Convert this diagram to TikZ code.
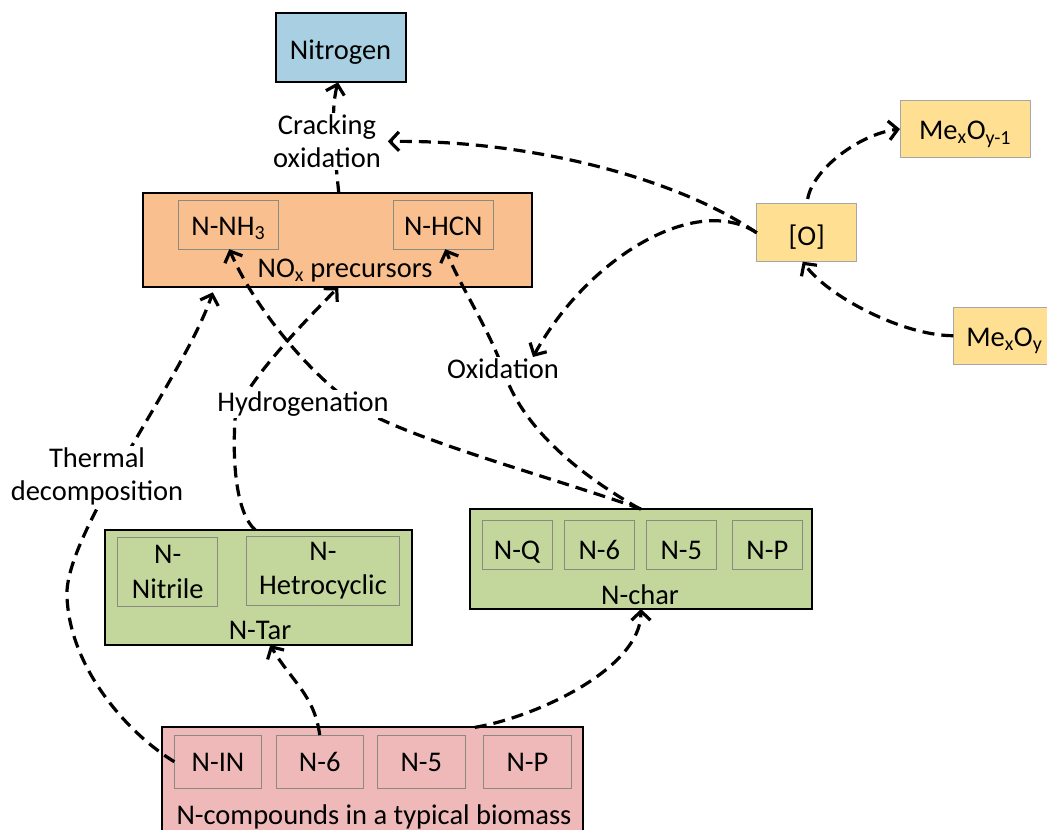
\documentclass[tikz,border=0pt]{standalone}
\usepackage{fontspec}
\setmainfont{Carlito}
\usetikzlibrary{arrows.meta}
\definecolor{nitroblue}{HTML}{A8CFE2}
\definecolor{noxorange}{HTML}{FABF8F}
\definecolor{oxyellow}{HTML}{FFDF91}
\definecolor{chargreen}{HTML}{C3D69B}
\definecolor{biopink}{HTML}{F0B9B9}
\definecolor{innerline}{HTML}{8A8A80}
\definecolor{ygray}{HTML}{A6A6A6}
\tikzset{
  base/.style={inner sep=0pt, outer sep=0pt, font=\fontsize{28.5}{33}\selectfont},
  outerbox/.style={base, draw=black, line width=2pt},
  innerbox/.style={base, draw=innerline, line width=0.9pt, align=center},
  ybox/.style={base, draw=ygray, line width=1pt, fill=oxyellow},
  lbl/.style={base, inner sep=2pt, fill=white, align=center},
  intext/.style={base, text height=18pt, text depth=0pt},
  tlow/.style={text height=#1, text depth=0pt},
  flow/.style={line width=3.2pt, dash pattern=on 12pt off 7pt,
    -{Straight Barb[length=9pt,width=19pt]}}
}
\begin{document}
\begin{tikzpicture}[x=1pt,y=-1pt]
\useasboundingbox (0,0) rectangle (1047,830);
\clip (0,0) rectangle (1047,830);
\fill[white] (0,0) rectangle (1047,830);

% boxes
\node[outerbox, tlow=23.4pt, fill=nitroblue, minimum width=130pt, minimum height=69pt] (nitro) at (340.5,47.8) {Nitrogen};

\node[outerbox, fill=noxorange, minimum width=389pt, minimum height=94pt] (nox) at (337.8,240.3) {};
\node[innerbox, tlow=21.8pt, minimum width=100pt, minimum height=49pt] (nnh) at (228.3,224.7) {N-NH\textsubscript{3}};
\node[innerbox, tlow=21.8pt, minimum width=100pt, minimum height=49pt] (nhcn) at (443.3,224.7) {N-HCN};
\node[intext] (noxlbl) at (345,268.3) {NO\textsubscript{x} precursors};

\node[ybox, tlow=24.4pt, minimum width=100pt, minimum height=57.7pt] (o) at (806.7,232.8) {[O]};
\node[ybox, tlow=21.6pt, minimum width=130pt, minimum height=56.7pt] (meo1) at (965,129) {Me\textsubscript{x}O\textsubscript{y-1}};
\node[ybox, tlow=21.6pt, minimum width=102pt, minimum height=56.7pt] (meo) at (1004.3,335.7) {Me\textsubscript{x}O\textsubscript{y}};

\node[outerbox, fill=chargreen, minimum width=306.7pt, minimum height=115pt] (ntar) at (258.3,587.5) {};
\node[innerbox, font=\fontsize{28.5}{34.5}\selectfont, minimum width=100pt, minimum height=69.3pt] (nitrile) at (167.7,572) {N-\\Nitrile};
\node[innerbox, font=\fontsize{28.5}{34.5}\selectfont, minimum width=152.7pt, minimum height=68.3pt] (hetro) at (323,570.8) {N-\\Hetrocyclic};
\node[intext] (ntarlbl) at (260,630.7) {N-Tar};

\node[outerbox, fill=chargreen, minimum width=342pt, minimum height=100pt] (nchar) at (641,559) {};
\node[innerbox, tlow=30pt, minimum width=70pt, minimum height=49.3pt] (nq) at (517,544.7) {N-Q};
\node[innerbox, tlow=30pt, minimum width=70pt, minimum height=49.3pt] (nc6) at (599.3,544.7) {N-6};
\node[innerbox, tlow=30pt, minimum width=70.7pt, minimum height=49.3pt] (nc5) at (681.3,544.7) {N-5};
\node[innerbox, tlow=30pt, minimum width=70pt, minimum height=49.3pt] (ncp) at (767.3,544.7) {N-P};
\node[intext] (ncharlbl) at (640,595) {N-char};

\node[outerbox, fill=biopink, minimum width=421pt, minimum height=132.7pt] (bio) at (372.8,793.7) {};
\node[innerbox, tlow=20pt, minimum width=87.3pt, minimum height=53.3pt] (nin) at (218,761.7) {N-IN};
\node[innerbox, tlow=20pt, minimum width=87.3pt, minimum height=53.3pt] (nb6) at (319.7,761.7) {N-6};
\node[innerbox, tlow=20pt, minimum width=87.3pt, minimum height=53.3pt] (nb5) at (421.3,761.7) {N-5};
\node[innerbox, tlow=20pt, minimum width=88.3pt, minimum height=53.3pt] (nbp) at (527.5,761.7) {N-P};
\node[intext] (biolbl) at (374,815) {N-compounds in a typical biomass};

% connectors that pass behind labels
\draw[flow] ([xshift=1pt]nox.north) .. controls +(-4,-40) and +(-8,30) .. ([xshift=-2.5pt]nitro.south);
\draw[flow] ([xshift=-3pt]ntar.north) .. controls (238,515) and (232,470) .. (235,420)
  .. controls (237,390) and (310,316) .. ([xshift=0.5pt]nox.south);
\draw[flow] (nchar.north) .. controls (560,480) and (430,445) .. (370,414)
  .. controls (320,388) and (255,310) .. ([xshift=1pt]nnh.south);
\draw[flow] ([xshift=-1pt]nchar.north) .. controls (580,475) and (525,430) .. (505,375)
  .. controls (490,330) and (462,290) .. ([xshift=2pt]nhcn.south);
\draw[flow] (nin.west) .. controls (130,735) and (70,670) .. (67,597)
  .. controls (63,535) and (185,375) .. ([xshift=-125pt,yshift=-5pt]nox.south);
\draw[flow] (nb6.north) .. controls +(-5,-40) and +(20,35) .. ([xshift=12pt]ntar.south);
\draw[flow] ([xshift=102pt]bio.north) .. controls +(60,-10) and +(0,60) .. (nchar.south);

% labels
\node[lbl] (crack) at (327,141.5) {Cracking\\oxidation};
\node[lbl] (oxid) at (503,369) {Oxidation};
\node[lbl] (hydro) at (303,404) {Hydrogenation};
\node[lbl] (thermal) at (97,476.5) {Thermal\\decomposition};

% connectors from [O]
\draw[flow] (o.west) .. controls +(-80,-55) and +(140,-2) .. ([xshift=5pt]crack.east);
\draw[flow] (o.west) .. controls +(-60,-40) and +(55,-100) .. ([xshift=30pt]oxid.north);
\draw[flow] ([xshift=1pt,yshift=5pt]o.north) .. controls +(5,-30) and +(-40,5) .. (meo1.west);
\draw[flow] (meo.west) .. controls +(-50,0) and +(25,35) .. ([xshift=-4pt]o.south);
\end{tikzpicture}
\end{document}
